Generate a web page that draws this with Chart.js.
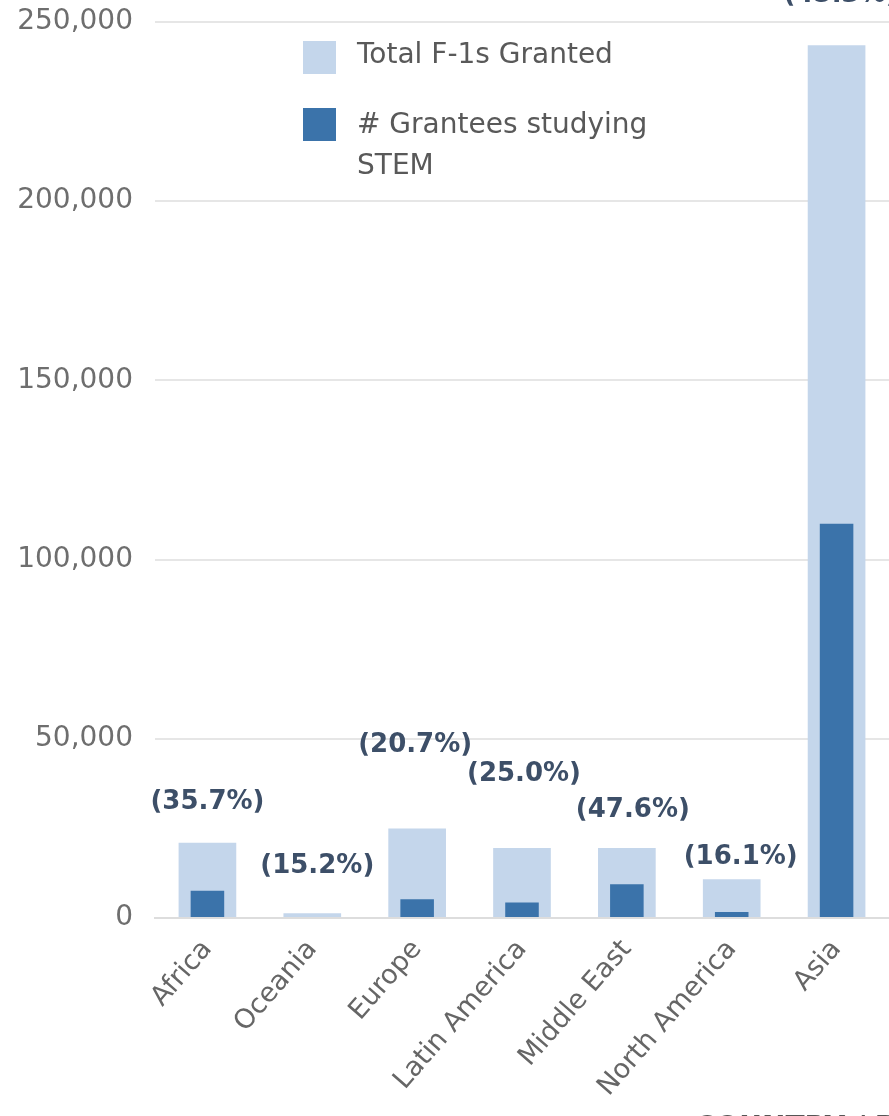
<!DOCTYPE html>
<html>
<head>
<meta charset="utf-8">
<script src="https://cdn.jsdelivr.net/npm/chart.js@4"></script>
<style>
  html, body { margin: 0; padding: 0; background: #ffffff; }
  #wrap { width: 889px; height: 1116px; overflow: hidden; }
</style>
</head>
<body>
<div id="wrap"><canvas id="f1-chart" width="889" height="1116"></canvas></div>
<script>
const regions = ['Africa', 'Oceania', 'Europe', 'Latin America', 'Middle East', 'North America', 'Asia'];
const totalGranted = [21000, 1300, 25000, 19500, 19500, 10800, 243500];
const stemGrantees = [7600, 300, 5200, 4300, 9400, 1700, 110000];
const stemShare = ['(35.7%)', '(15.2%)', '(20.7%)', '(25.0%)', '(47.6%)', '(16.1%)', '(45.3%)'];
const yTicks = [0, 50000, 100000, 150000, 200000, 250000];

const FONT = '"DejaVu Sans", Verdana, sans-serif';

// percentage captions above each region, staggered like the original
const shareLabels = {
    id: 'shareLabels',
    afterDatasetsDraw(chart, args, opts) {
        const { ctx } = chart;
        const meta = chart.getDatasetMeta(0);
        ctx.save();
        ctx.font = 'bold 26px ' + FONT;
        ctx.fillStyle = '#3d4f68';
        ctx.textAlign = 'center';
        ctx.textBaseline = 'middle';
        meta.data.forEach((bar, i) => {
            ctx.fillText(stemShare[i], bar.x + opts.dx[i], bar.y - opts.lift[i]);
        });
        ctx.restore();
    }
};

// legend box drawn inside the plot, with the wrapped second entry
const insideLegend = {
    id: 'insideLegend',
    afterDraw(chart) {
        const { ctx } = chart;
        const ds = chart.data.datasets;
        ctx.save();
        ctx.font = '28px ' + FONT;
        ctx.textBaseline = 'middle';
        ctx.fillStyle = ds[0].backgroundColor;
        ctx.fillRect(303, 41, 33, 33);
        ctx.fillStyle = ds[1].backgroundColor;
        ctx.fillRect(303, 108, 33, 33);
        ctx.fillStyle = '#595959';
        ctx.fillText('Total F-1s Granted', 357, 56);
        ctx.fillText('# Grantees studying', 357, 126);
        ctx.fillText('STEM', 357, 167);
        // axis title, mostly cut off by the bottom edge
        ctx.font = 'bold 28px ' + FONT;
        ctx.fillStyle = '#555555';
        ctx.fillText('COUNTRY / REGION', 695, 1129);
        ctx.restore();
    }
};

const noScalePadding = s => {
    s.paddingTop = 0;
    s.paddingBottom = 0;
    s.paddingLeft = 0;
    s.paddingRight = 0;
};

const config = {
    type: 'bar',
    data: {
        labels: regions,
        datasets: [{
            label: 'Total F-1s Granted',
            data: totalGranted,
            backgroundColor: '#c4d6eb',
            barPercentage: 0.55,
            categoryPercentage: 1,
            order: 1
        }, {
            label: '# Grantees studying STEM',
            data: stemGrantees,
            backgroundColor: '#3b73aa',
            barPercentage: 0.32,
            categoryPercentage: 1,
            order: 0
        }]
    },
    options: {
        responsive: false,
        animation: false,
        devicePixelRatio: 1,
        layout: { padding: { top: 22, right: 0, left: 0, bottom: 0 } },
        datasets: { bar: { grouped: false } },
        plugins: {
            legend: { display: false },
            tooltip: { enabled: false },
            shareLabels: {
                lift: [40, 47, 83, 74, 38, 22, 50],
                dx: [0, 5, -2, 2, 6, 9, 4]
            }
        },
        scales: {
            x: {
                grid: { display: false },
                border: { color: '#dddddd', width: 2 },
                ticks: {
                    color: '#666666',
                    font: { family: FONT, size: 27 },
                    minRotation: 49,
                    maxRotation: 49,
                    padding: 8
                },
                afterFit: s => { s.height = 198; noScalePadding(s); }
            },
            y: {
                min: 0,
                max: 250000,
                afterBuildTicks: s => { s.ticks = yTicks.map(v => ({ value: v })); },
                grid: { color: '#e6e6e6', lineWidth: 2, drawTicks: false },
                border: { display: false },
                ticks: {
                    color: '#6e6e6e',
                    padding: 22,
                    font: { family: FONT, size: 28 },
                    callback: v => v.toLocaleString('en-US')
                },
                afterFit: s => { s.width = 155; noScalePadding(s); }
            }
        }
    },
    plugins: [shareLabels, insideLegend]
};

const ctx = document.getElementById('f1-chart').getContext('2d');
new Chart(ctx, config);
</script>
</body>
</html>
